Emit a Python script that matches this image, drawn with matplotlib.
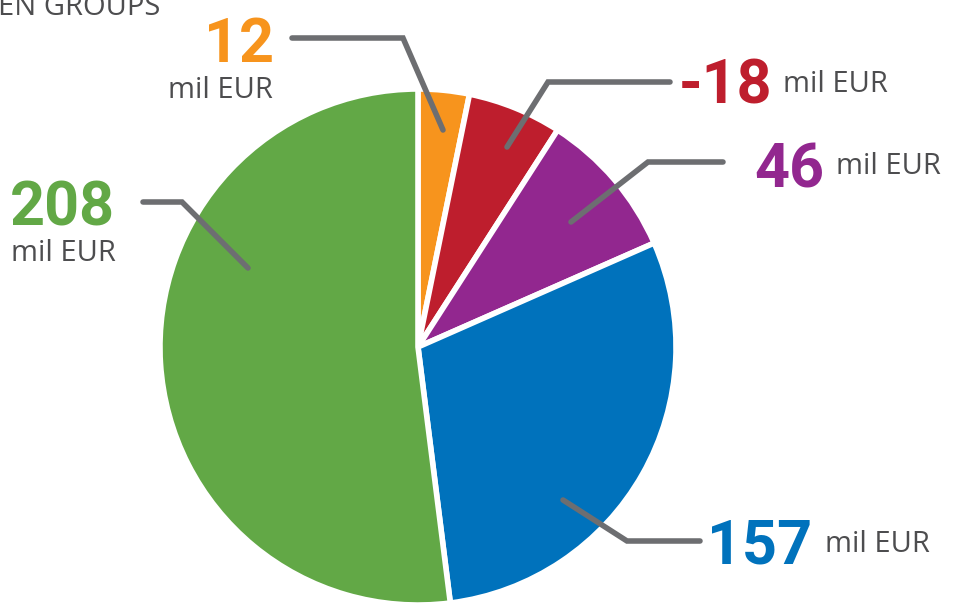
import matplotlib.pyplot as plt

# slice shares (% of the circle) clockwise from the top
shares = [3.2, 5.9, 9.3, 29.6, 52.0]
# printed values (mil EUR)
labels = ['12', '-18', '46', '157', '208']
colors = ['#F7941D', '#BE1E2D', '#92278F', '#0072BC', '#62A846']

H = 605
fig = plt.figure(figsize=(9.63, 6.05), dpi=100)
ax = fig.add_axes([0, 0, 1, 1])

ax.pie(shares, colors=colors, startangle=90, counterclock=False,
       center=(418, H - 347), radius=258, explode=[0.015] * 5,
       wedgeprops=dict(edgecolor='white', linewidth=4))

ax.set_xlim(0, 963)
ax.set_ylim(0, H)
ax.set_aspect('equal')
ax.axis('off')

line_c = '#6D6E71'
text_c = '#4D4D4F'
num_font = ['Roboto', 'DejaVu Sans']
txt_font = ['Open Sans', 'DejaVu Sans']
NUM = 44
TXT = 21

def leader(pts):
    xs = [p[0] for p in pts]
    ys = [H - p[1] for p in pts]
    ax.plot(xs, ys, color=line_c, lw=4, solid_capstyle='round', solid_joinstyle='miter')

def number(x, y, s, c, ha):
    ax.text(x, H - y, s, color=c, fontsize=NUM, fontweight='bold',
            family=num_font, ha=ha, va='baseline')

def unit(x, y, ha):
    ax.text(x, H - y, 'mil EUR', color=text_c, fontsize=TXT, family=txt_font,
            ha=ha, va='baseline')

# 12
leader([(443, 130), (403, 38), (292, 38)])
number(274, 62, labels[0], colors[0], 'right')
unit(273, 98, 'right')

# -18
leader([(507, 147), (548, 82), (670, 82)])
number(772, 104, labels[1], colors[1], 'right')
unit(783, 92, 'left')

# 46
leader([(571, 222), (648, 162), (723, 162)])
number(824, 188, labels[2], colors[2], 'right')
unit(836, 174, 'left')

# 157
leader([(563, 500), (627, 541), (700, 541)])
number(812, 564, labels[3], colors[3], 'right')
unit(825, 552, 'left')

# 208
leader([(248, 268), (182, 202), (143, 202)])
number(10, 225, labels[4], colors[4], 'left')
unit(11, 261, 'left')

# title, cut off by the top edge
ax.text(-2, H - 15, 'EN GROUPS', color=text_c, fontsize=TXT, family=txt_font,
        ha='left', va='baseline')

fig.savefig('out.png', dpi=100)
